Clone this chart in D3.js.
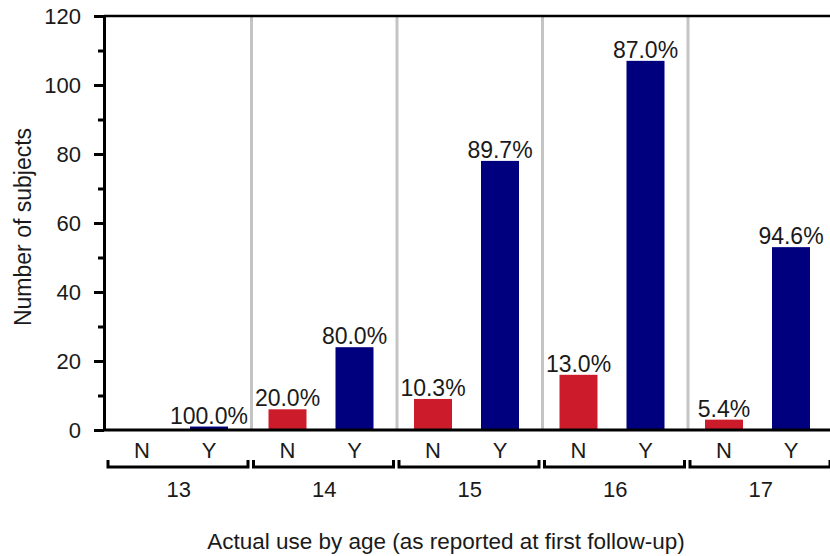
<!DOCTYPE html>
<html>
<head>
<meta charset="utf-8">
<script src="https://cdn.jsdelivr.net/npm/d3@7"></script>
<style>
  body { margin: 0; background: #fff; }
  svg text { font-family: "Liberation Sans", Arial, sans-serif; fill: #1a1a1a; }
</style>
</head>
<body>
<div id="chart"></div>
<script>
// data
var ages = ["13", "14", "15", "16", "17"];
var answers = ["N", "Y"];
var noCounts = [0, 6, 9, 16, 3];
var yesCounts = [1, 24, 78, 107, 53];
var noLabels = ["", "20.0%", "10.3%", "13.0%", "5.4%"];
var yesLabels = ["100.0%", "80.0%", "89.7%", "87.0%", "94.6%"];
var majorTicks = [0, 20, 40, 60, 80, 100, 120];
var minorTicks = [10, 30, 50, 70, 90, 110];

var svgWidth = 830;
var svgHeight = 556;

var svg = d3.select("#chart")
    .append("svg")
    .attr("width", svgWidth)
    .attr("height", svgHeight);

//scales
var yScale = d3.scaleLinear()
    .domain([0, 120])
    .range([430, 16]);
var ageScale = d3.scaleBand()
    .domain(ages)
    .range([106, 833.5]);
var ansScale = d3.scalePoint()
    .domain(answers)
    .range([36, 103]);
var barWidth = 38;

var colors = { N: "#cc1b2b", Y: "#00007f" };

//flatten into one row per bar
var bars = [];
ages.forEach(function(age, i) {
    bars.push({ age: age, ans: "N", value: noCounts[i], label: noLabels[i] });
    bars.push({ age: age, ans: "Y", value: yesCounts[i], label: yesLabels[i] });
});

//gray separators between age groups
svg.selectAll(".sep")
    .data(ages.slice(1))
    .enter()
    .append("line")
    .attr("x1", d => ageScale(d))
    .attr("x2", d => ageScale(d))
    .attr("y1", yScale(120))
    .attr("y2", yScale(0))
    .attr("stroke", "#c4c4c4")
    .attr("stroke-width", 3);

//bars
svg.selectAll(".bar")
    .data(bars)
    .enter()
    .append("rect")
    .attr("x", d => ageScale(d.age) + ansScale(d.ans) - barWidth / 2)
    .attr("y", d => yScale(d.value))
    .attr("width", barWidth)
    .attr("height", d => yScale(0) - yScale(d.value))
    .attr("fill", d => colors[d.ans]);

//percentage labels
svg.selectAll(".pct")
    .data(bars.filter(d => d.label))
    .enter()
    .append("text")
    .attr("x", d => ageScale(d.age) + ansScale(d.ans))
    .attr("y", d => yScale(d.value) - 3)
    .attr("text-anchor", "middle")
    .style("font-size", "23px")
    .text(d => d.label);

//frame top and bottom
svg.append("line")
    .attr("x1", 104).attr("x2", svgWidth)
    .attr("y1", yScale(120)).attr("y2", yScale(120))
    .attr("stroke", "#000").attr("stroke-width", 2.5);
svg.append("line")
    .attr("x1", 104).attr("x2", svgWidth)
    .attr("y1", yScale(0)).attr("y2", yScale(0))
    .attr("stroke", "#000").attr("stroke-width", 3);

//y axis
var yAxis = d3.axisLeft(yScale)
    .tickValues(majorTicks)
    .tickSize(10)
    .tickSizeOuter(0)
    .tickPadding(13);
var yMinor = d3.axisLeft(yScale)
    .tickValues(minorTicks)
    .tickSize(6)
    .tickSizeOuter(0)
    .tickFormat("");

var yg = svg.append("g")
    .attr("transform", "translate(104, 0)")
    .call(yAxis);
var ym = svg.append("g")
    .attr("transform", "translate(104, 0)")
    .call(yMinor);
[yg, ym].forEach(function(g) {
    g.select(".domain").attr("stroke", "#000").attr("stroke-width", 3);
    g.selectAll(".tick line").attr("stroke", "#000").attr("stroke-width", 3);
});
yg.selectAll(".tick text")
    .style("font-size", "22px")
    .attr("fill", "#1a1a1a");

//x axis: N/Y labels, brackets, age labels
svg.selectAll(".ans")
    .data(bars)
    .enter()
    .append("text")
    .attr("x", d => ageScale(d.age) + ansScale(d.ans))
    .attr("y", 458)
    .attr("text-anchor", "middle")
    .style("font-size", "22px")
    .text(d => d.ans);

svg.selectAll(".bracket")
    .data(ages)
    .enter()
    .append("path")
    .attr("d", function(d) {
        var x0 = ageScale(d) + 2;
        var x1 = ageScale(d) + ageScale.bandwidth() - 3.5;
        return "M" + x0 + ",460V467H" + x1 + "V460";
    })
    .attr("fill", "none")
    .attr("stroke", "#000")
    .attr("stroke-width", 3);

svg.selectAll(".age")
    .data(ages)
    .enter()
    .append("text")
    .attr("x", d => ageScale(d) + ageScale.bandwidth() / 2)
    .attr("y", 497)
    .attr("text-anchor", "middle")
    .style("font-size", "22px")
    .text(d => d);

//axis titles
svg.append("text")
    .attr("x", 446)
    .attr("y", 549)
    .attr("text-anchor", "middle")
    .style("font-size", "22.5px")
    .text("Actual use by age (as reported at first follow-up)");

svg.append("text")
    .attr("transform", "rotate(-90)")
    .attr("x", -227)
    .attr("y", 31)
    .attr("text-anchor", "middle")
    .style("font-size", "23px")
    .text("Number of subjects");
</script>
</body>
</html>
